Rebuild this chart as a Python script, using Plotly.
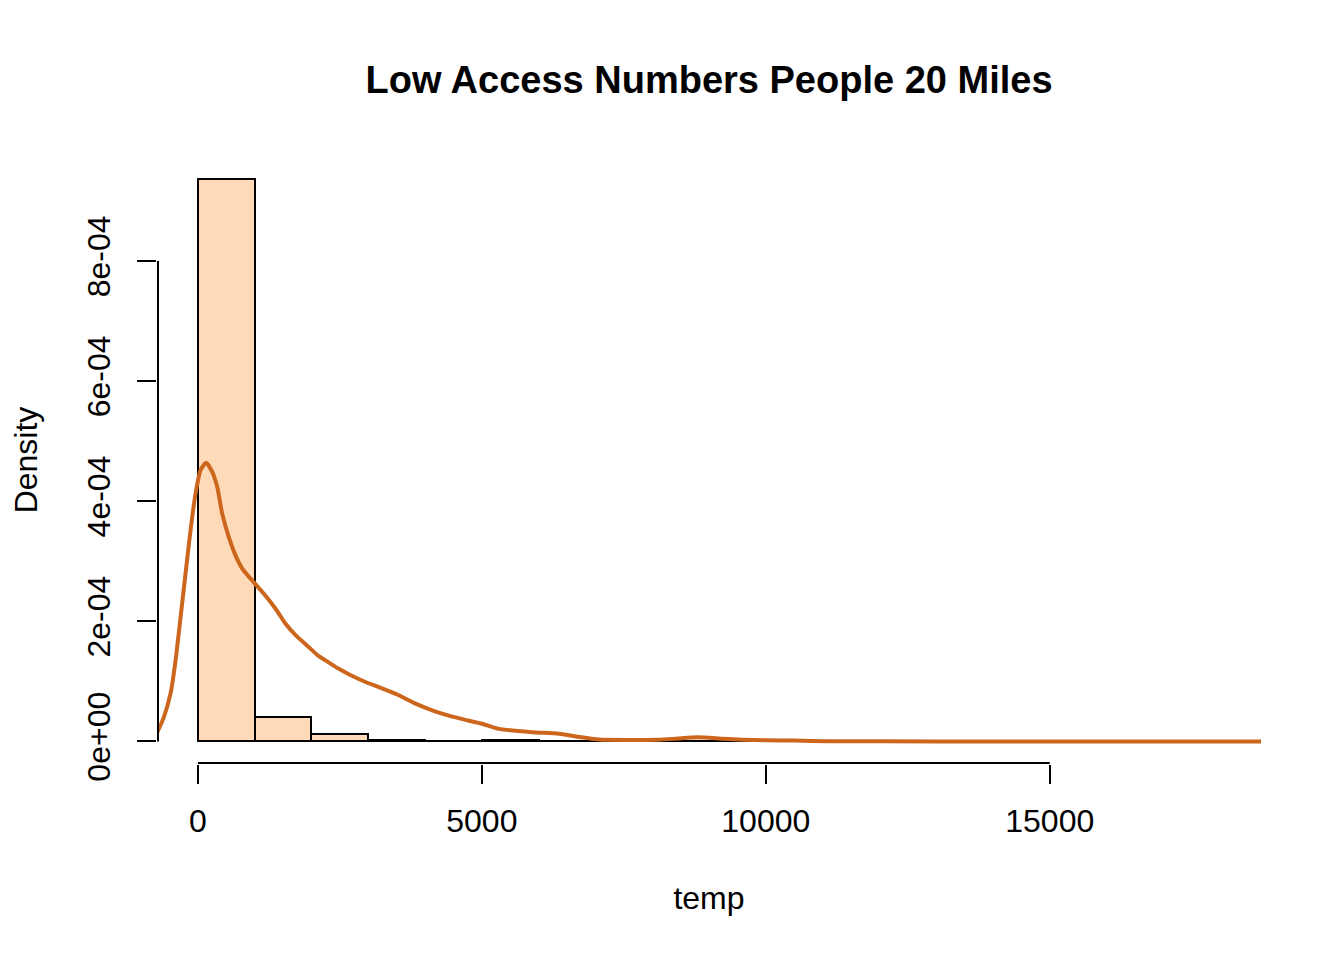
import plotly.graph_objects as go

# histogram of temp (density scale), bins of width 1000
bin_left = list(range(0, 18000, 1000))
hist_density = [9.37e-4, 4.0e-5, 1.28e-5, 2e-6, 5e-7, 2e-6, 1e-6, 1e-6, 1.5e-6,
                1e-6, 5e-7, 0, 0, 0, 0, 0, 0, 2e-7]

# kernel density curve
dens_x = [-740, -599, -481, -393, -305, -217, -129, -41, 47, 146, 252, 340, 429,
          546, 663, 781, 957, 1162, 1368, 1544, 1720, 1954, 2130, 2248, 2482,
          2658, 2952, 3187, 3539, 3832, 4125, 4419, 4712, 5006, 5299, 5885,
          6355, 6766, 7060, 8100, 8400, 8800, 9250, 9600, 10000, 10500, 11100,
          12000, 14000, 16000, 18740]
dens_y = [0.10, 0.405, 0.80, 1.35, 2.07, 2.80, 3.52, 4.13, 4.52, 4.64, 4.49,
          4.24, 3.79, 3.40, 3.10, 2.88, 2.68, 2.46, 2.21, 1.96, 1.77, 1.57,
          1.42, 1.35, 1.21, 1.12, 0.99, 0.905, 0.77, 0.63, 0.52, 0.43, 0.36,
          0.295, 0.21, 0.155, 0.128, 0.07, 0.033, 0.03, 0.045, 0.07, 0.045,
          0.03, 0.02, 0.015, 0.005, 0.002, 0.001, 0.0005, 0.0]
dens_y = [v * 1e-4 for v in dens_y]

x_ticks = [0, 5000, 10000, 15000]
y_ticks = [0, 2e-4, 4e-4, 6e-4, 8e-4]
y_tick_text = ["0e+00", "2e-04", "4e-04", "6e-04", "8e-04"]

FONT = "Liberation Sans, Arial, sans-serif"

fig = go.Figure()
fig.add_trace(go.Bar(
    x=[b + 500 for b in bin_left], y=hist_density, width=1000,
    marker=dict(color="#FFDAB9", line=dict(color="black", width=2)),
    showlegend=False))
fig.add_trace(go.Scatter(
    x=dens_x, y=dens_y, mode="lines",
    line=dict(color="#CD661D", width=4, shape="spline", smoothing=0.6),
    showlegend=False))

# R-style axis lines that only span the tick range
fig.add_shape(type="line", xref="x", yref="y", x0=-703, x1=-703, y0=0, y1=8e-4,
              line=dict(color="black", width=2))
fig.add_shape(type="line", xref="x", yref="y", x0=0, x1=15000,
              y0=-3.6e-5, y1=-3.6e-5, line=dict(color="black", width=2))

fig.update_xaxes(
    range=[-720, 18720], showgrid=False, zeroline=False, showline=False,
    tickvals=x_ticks, ticktext=[str(v) for v in x_ticks],
    ticks="outside", ticklen=19, tickwidth=2, tickcolor="black",
    tickfont=dict(family=FONT, size=32, color="black"),
    ticklabelstandoff=10,
    title=dict(text="temp", font=dict(family=FONT, size=32, color="black"),
               standoff=48))
fig.update_yaxes(
    range=[-3.75e-5, 9.75e-4], showgrid=False, zeroline=False, showline=False,
    tickvals=y_ticks, ticktext=y_tick_text, tickangle=-90,
    ticks="outside", ticklen=19, tickwidth=2, tickcolor="black",
    tickfont=dict(family=FONT, size=32, color="black"),
    ticklabelstandoff=14,
    title=dict(text="Density", font=dict(family=FONT, size=32, color="black"),
               standoff=38))

# the page body adds an 8px offset, so margins are shifted to compensate
fig.update_layout(
    width=1344, height=960,
    margin=dict(l=149, r=91, t=148, b=204),
    plot_bgcolor="white", paper_bgcolor="white",
    bargap=0,
    title=dict(text="<b>Low Access Numbers People 20 Miles</b>",
               font=dict(family=FONT, size=38, color="black"),
               x=701 / 1344, xanchor="center", y=1 - 72 / 960, yanchor="middle"),
)

fig.write_html("out.html")
